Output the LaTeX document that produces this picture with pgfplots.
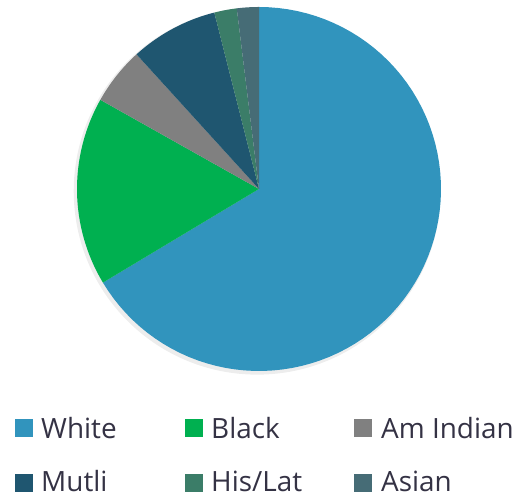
\documentclass[border=0pt]{standalone}
\usepackage{pgfplots}
\pgfplotsset{compat=1.18}
\usepackage{fontspec}
\setmainfont{Open Sans}

\definecolor{cWhite}{RGB}{49,148,189}
\definecolor{cBlack}{RGB}{0,176,80}
\definecolor{cAmInd}{RGB}{128,128,128}
\definecolor{cMutli}{RGB}{31,86,112}
\definecolor{cHisLat}{RGB}{59,125,104}
\definecolor{cAsian}{RGB}{70,108,118}
\definecolor{txt}{RGB}{52,50,68}

% shares in percent, clockwise from 12 o'clock
\pgfmathsetmacro\aA{90}
\pgfmathsetmacro\aB{\aA-3.6*66.4}  % White
\pgfmathsetmacro\aC{\aB-3.6*16.75} % Black
\pgfmathsetmacro\aD{\aC-3.6*5.1}   % Am Indian
\pgfmathsetmacro\aE{\aD-3.6*7.8}   % Mutli
\pgfmathsetmacro\aF{\aE-3.6*2.0}   % His/Lat
\pgfmathsetmacro\aG{\aF-3.6*1.95}  % Asian

\begin{document}
\begin{tikzpicture}[x=1bp,y=1bp]
\useasboundingbox (0,0) rectangle (520,499);
\begin{axis}[
    at={(77bp,128bp)}, anchor=south west,
    width=364bp, height=364bp, scale only axis,
    xmin=-1, xmax=1, ymin=-1, ymax=1,
    hide axis, clip=false,
    samples=80, variable=\t,
]
\fill[black, opacity=0.07] (axis cs:-0.01,-0.012) circle[radius=1.008];
\addplot[fill=cWhite, draw=none, domain=\aB:\aA] ({cos(\t)},{sin(\t)}) -- (axis cs:0,0) -- cycle;
\addplot[fill=cBlack, draw=none, domain=\aC:\aB] ({cos(\t)},{sin(\t)}) -- (axis cs:0,0) -- cycle;
\addplot[fill=cAmInd, draw=none, domain=\aD:\aC] ({cos(\t)},{sin(\t)}) -- (axis cs:0,0) -- cycle;
\addplot[fill=cMutli, draw=none, domain=\aE:\aD] ({cos(\t)},{sin(\t)}) -- (axis cs:0,0) -- cycle;
\addplot[fill=cHisLat, draw=none, domain=\aF:\aE] ({cos(\t)},{sin(\t)}) -- (axis cs:0,0) -- cycle;
\addplot[fill=cAsian, draw=none, domain=\aG:\aF] ({cos(\t)},{sin(\t)}) -- (axis cs:0,0) -- cycle;
\end{axis}

% legend
\begin{scope}[every node/.style={inner sep=0, anchor=base west, text=txt, font=\fontsize{28}{31}\selectfont}]
\fill[cWhite] (15,62) rectangle ++(18,18);   \node at (41,60.7) {White};
\fill[cBlack] (185,62) rectangle ++(18,18);  \node at (211,60.7) {Black};
\fill[cAmInd] (354,62) rectangle ++(18,18);  \node at (381,60.7) {Am Indian};
\fill[cMutli] (15,7) rectangle ++(18,18);    \node at (41,7.3) {Mutli};
\fill[cHisLat] (185,7) rectangle ++(18,18);  \node at (211,7.3) {His/Lat};
\fill[cAsian] (354,7) rectangle ++(18,18);   \node at (381,7.3) {Asian};
\end{scope}
\end{tikzpicture}
\end{document}
